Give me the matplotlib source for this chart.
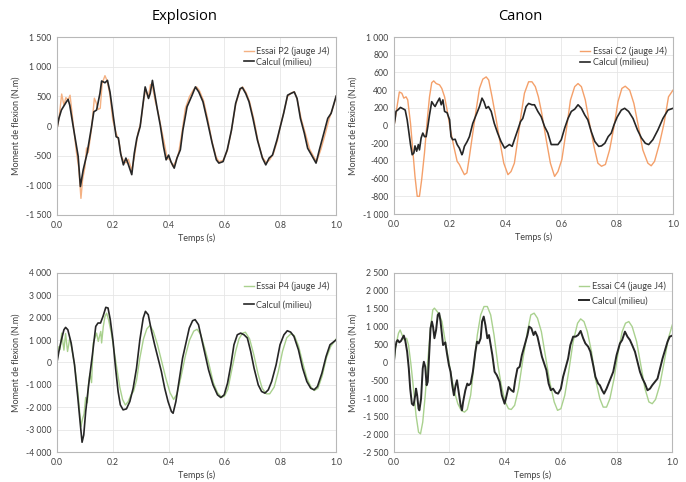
import matplotlib
matplotlib.use("Agg")
from matplotlib import pyplot as plt
from matplotlib.ticker import FuncFormatter, MultipleLocator

# ---- Explosion P2 (top left)
t_calc_p2 = [0, 0.007, 0.016, 0.034, 0.04, 0.046, 0.058, 0.076, 0.084, 0.094, 0.108, 0.124, 0.132, 0.142,
             0.154, 0.16, 0.172, 0.181, 0.19, 0.202, 0.212, 0.22, 0.228, 0.238, 0.247, 0.254, 0.268, 0.277,
             0.286, 0.298, 0.307, 0.316, 0.328, 0.334, 0.342, 0.352, 0.36, 0.37, 0.382, 0.391, 0.4, 0.408,
             0.42, 0.43, 0.442, 0.451, 0.466, 0.484, 0.496, 0.508, 0.523, 0.538, 0.556, 0.571, 0.58, 0.595,
             0.61, 0.625, 0.64, 0.656, 0.664, 0.676, 0.688, 0.702, 0.718, 0.736, 0.748, 0.76, 0.772, 0.788,
             0.8, 0.812, 0.826, 0.838, 0.85, 0.86, 0.872, 0.886, 0.898, 0.912, 0.928, 0.94, 0.956, 0.97,
             0.982, 1.0]
calc_p2 = [-40, 130, 270, 410, 450, 350, 0, -510, -1020, -740, -460, -10, 240, 270,
           550, 760, 730, 770, 575, 157, -180, -200, -460, -655, -540, -625, -820, -460,
           -210, -10, 325, 660, 465, 550, 770, 490, 270, 15, -350, -570, -490, -600,
           -710, -540, -400, -70, 325, 520, 660, 575, 410, 100, -290, -570, -625, -600,
           -400, -70, 380, 630, 650, 550, 410, 130, -235, -540, -655, -540, -490, -235,
           -10, 215, 520, 550, 575, 465, 130, -120, -375, -490, -625, -400, -120, 130,
           215, 505]

t_essai_p2 = [0, 0.008, 0.017, 0.025, 0.032, 0.04, 0.047, 0.058, 0.07, 0.078, 0.086, 0.092, 0.1, 0.106,
              0.112, 0.124, 0.134, 0.14, 0.148, 0.155, 0.162, 0.172, 0.18, 0.19, 0.2, 0.212, 0.222, 0.23,
              0.24, 0.248, 0.256, 0.268, 0.278, 0.29, 0.3, 0.31, 0.318, 0.327, 0.335, 0.343, 0.352, 0.362,
              0.372, 0.385, 0.395, 0.405, 0.415, 0.425, 0.436, 0.448, 0.46, 0.475, 0.49, 0.5, 0.51, 0.525,
              0.54, 0.555, 0.57, 0.58, 0.595, 0.61, 0.625, 0.64, 0.655, 0.665, 0.678, 0.69, 0.705, 0.72,
              0.735, 0.75, 0.762, 0.775, 0.79, 0.8, 0.812, 0.826, 0.84, 0.85, 0.86, 0.875, 0.89, 0.905,
              0.92, 0.93, 0.945, 0.96, 0.975, 0.99, 1.0]
essai_p2 = [-60, 150, 540, 350, 480, 440, 520, 50, -450, -700, -1220, -900, -700, -370,
            -450, -40, 470, 400, 280, 300, 720, 850, 760, 520, 100, -120, -250, -500,
            -600, -620, -560, -750, -500, -120, 50, 420, 620, 480, 700, 650, 420, 240,
            0, -300, -550, -560, -680, -600, -450, -100, 300, 500, 620, 660, 600, 430,
            120, -250, -520, -600, -580, -420, -80, 360, 600, 660, 560, 410, 120, -250,
            -520, -620, -570, -470, -240, 0, 220, 500, 560, 580, 460, 120, -130, -390,
            -520, -600, -400, -150, 120, 330, 500]

# ---- Canon C2 (top right)
t_essai_c2 = [0, 0.008, 0.02, 0.029, 0.036, 0.044, 0.05, 0.06, 0.068, 0.076, 0.084, 0.092, 0.1, 0.11,
              0.12, 0.128, 0.136, 0.143, 0.152, 0.164, 0.172, 0.182, 0.191, 0.203, 0.215, 0.227, 0.235,
              0.244, 0.253, 0.262, 0.271, 0.283, 0.295, 0.307, 0.319, 0.331, 0.34, 0.352, 0.367, 0.379,
              0.394, 0.409, 0.42, 0.432, 0.444, 0.456, 0.468, 0.483, 0.495, 0.507, 0.518, 0.53, 0.546,
              0.561, 0.576, 0.588, 0.602, 0.618, 0.633, 0.648, 0.66, 0.672, 0.686, 0.701, 0.717, 0.731,
              0.744, 0.758, 0.773, 0.789, 0.803, 0.817, 0.829, 0.845, 0.86, 0.875, 0.892, 0.91, 0.922,
              0.934, 0.952, 0.968, 0.984, 1.0]
essai_c2 = [-30, 140, 380, 365, 310, 325, 290, 25, -275, -575, -800, -800, -610, -310,
            65, 325, 485, 505, 475, 460, 420, 325, 175, -50, -235, -405, -440,
            -500, -555, -535, -350, -85, 175, 420, 525, 550, 515, 325, 65, -160,
            -425, -555, -520, -425, -160, 120, 365, 495, 495, 440, 325, 140, -160,
            -425, -575, -520, -385, -50, 290, 440, 475, 440, 290, 25, -235, -425,
            -460, -440, -275, -10, 270, 420, 445, 400, 250, 10, -275, -425, -455,
            -405, -200, 25, 325, 400]

t_calc_c2 = [0, 0.005, 0.008, 0.014, 0.024, 0.036, 0.041, 0.048, 0.053, 0.06, 0.066, 0.072, 0.076, 0.082,
             0.088, 0.092, 0.098, 0.104, 0.11, 0.116, 0.122, 0.128, 0.136, 0.143, 0.148, 0.155, 0.164,
             0.17, 0.176, 0.182, 0.191, 0.2, 0.205, 0.211, 0.22, 0.227, 0.235, 0.244, 0.247, 0.253, 0.263,
             0.271, 0.283, 0.295, 0.307, 0.316, 0.323, 0.331, 0.339, 0.349, 0.36, 0.372, 0.384, 0.397,
             0.405, 0.414, 0.424, 0.432, 0.444, 0.454, 0.462, 0.474, 0.483, 0.495, 0.504, 0.516, 0.528,
             0.54, 0.552, 0.564, 0.573, 0.588, 0.6, 0.612, 0.624, 0.636, 0.648, 0.66, 0.672, 0.684, 0.695,
             0.707, 0.72, 0.734, 0.744, 0.756, 0.768, 0.779, 0.789, 0.8, 0.815, 0.827, 0.841, 0.857,
             0.873, 0.887, 0.901, 0.913, 0.928, 0.946, 0.964, 0.982, 1.0]
calc_c2 = [-10, 80, 160, 175, 205, 185, 175, 65, -50, -215, -330, -310, -230, -290,
           -215, -275, -140, -85, -125, -125, -10, 120, 270, 235, 215, 260, 310,
           235, 290, 160, 145, 65, -125, -160, -155, -215, -255, -330, -310, -235, -180,
           -125, 25, 120, 215, 310, 270, 195, 215, 160, 25, -85, -180, -255,
           -235, -215, -235, -160, -50, 45, 80, 215, 250, 235, 235, 160, 100,
           -10, -85, -215, -215, -215, -160, -30, 80, 160, 185, 235, 195, 120, 65,
           -65, -180, -235, -230, -200, -125, -85, 10, 95, 175, 195, 160, 80,
           -50, -140, -200, -215, -160, -50, 80, 175, 195]

# ---- Explosion P4 (bottom left)
t_calc_p4 = [0, 0.007, 0.016, 0.025, 0.031, 0.039, 0.051, 0.063, 0.075, 0.084, 0.09, 0.096, 0.103, 0.115,
             0.127, 0.139, 0.147, 0.156, 0.165, 0.175, 0.183, 0.191, 0.201, 0.21, 0.219, 0.227, 0.237,
             0.249, 0.261, 0.273, 0.285, 0.297, 0.309, 0.317, 0.327, 0.339, 0.35, 0.362, 0.374, 0.386,
             0.398, 0.41, 0.416, 0.426, 0.438, 0.45, 0.462, 0.474, 0.486, 0.495, 0.507, 0.519, 0.531,
             0.543, 0.559, 0.575, 0.587, 0.599, 0.611, 0.623, 0.634, 0.646, 0.658, 0.67, 0.682, 0.694,
             0.706, 0.721, 0.733, 0.745, 0.757, 0.769, 0.785, 0.799, 0.813, 0.825, 0.837, 0.849, 0.865,
             0.88, 0.895, 0.909, 0.921, 0.933, 0.949, 0.964, 0.978, 1.0]
calc_p4 = [0, 490, 1010, 1460, 1565, 1460, 865, -105, -1595, -2790, -3560, -3235, -2190, -850,
           340, 1610, 1760, 1760, 2055, 2460, 2430, 1910, 940, -255, -1295, -1890, -2115,
           -2070, -1745, -1150, -255, 1010, 1980, 2280, 2130, 1385, 790, 195, -400, -1150,
           -1745, -2190, -2265, -1745, -775, 195, 865, 1535, 1865, 1910, 1685, 1010, 340,
           -330, -1000, -1445, -1565, -1445, -925, -105, 790, 1235, 1310, 1235, 1090, 490,
           -255, -1000, -1295, -1370, -1220, -850, -105, 790, 1235, 1415, 1355, 1160, 565,
           -255, -850, -1150, -1220, -1075, -475, 270, 790, 1010]

t_essai_p4 = [0, 0.006, 0.011, 0.017, 0.025, 0.031, 0.038, 0.046, 0.053, 0.063, 0.075, 0.086, 0.092,
              0.097, 0.103, 0.109, 0.112, 0.118, 0.124, 0.13, 0.136, 0.142, 0.148, 0.153, 0.157, 0.16,
              0.166, 0.172, 0.178, 0.185, 0.195, 0.205, 0.215, 0.225, 0.235, 0.245, 0.255, 0.265, 0.274,
              0.285, 0.297, 0.31, 0.322, 0.333, 0.345, 0.36, 0.375, 0.39, 0.405, 0.418, 0.43, 0.445,
              0.46, 0.475, 0.49, 0.502, 0.515, 0.53, 0.545, 0.56, 0.575, 0.59, 0.6, 0.612, 0.625, 0.64,
              0.652, 0.664, 0.675, 0.69, 0.705, 0.72, 0.735, 0.75, 0.762, 0.778, 0.793, 0.808, 0.823,
              0.838, 0.85, 0.865, 0.88, 0.895, 0.91, 0.922, 0.935, 0.95, 0.965, 0.98, 1.0]
essai_p4 = [0, 700, 570, 1310, 550, 1290, 490, 1080, 640, -100, -1300, -2860, -2500,
            -2300, -1560, -1800, -1070, -490, -900, 865, 1100, 1310, 940, 1200, 1385, 870,
            1600, 2050, 2200, 1900, 1300, 500, -300, -1100, -1650, -1900, -1750, -1450, -1300,
            -800, 200, 1050, 1500, 1650, 1400, 800, 50, -700, -1350, -1650, -1400, -600,
            300, 1000, 1400, 1480, 1250, 600, -100, -900, -1350, -1550, -1500, -1200, -400, 500,
            1050, 1300, 1350, 1050, 350, -500, -1150, -1400, -1400, -1100, -400, 500, 1100,
            1280, 1200, 750, 0, -700, -1100, -1250, -1150, -600, 200, 700, 1050]

# ---- Canon C4 (bottom right)
t_essai_c4 = [0, 0.008, 0.017, 0.023, 0.03, 0.038, 0.046, 0.053, 0.062, 0.072, 0.08, 0.089, 0.096,
              0.104, 0.113, 0.122, 0.132, 0.14, 0.146, 0.156, 0.164, 0.173, 0.182, 0.194, 0.206, 0.218,
              0.23, 0.242, 0.254, 0.264, 0.276, 0.288, 0.3, 0.312, 0.324, 0.336, 0.348, 0.36, 0.374,
              0.386, 0.4, 0.412, 0.422, 0.434, 0.448, 0.464, 0.48, 0.492, 0.504, 0.516, 0.53, 0.544,
              0.56, 0.576, 0.588, 0.6, 0.614, 0.628, 0.644, 0.66, 0.671, 0.683, 0.695, 0.71, 0.724,
              0.74, 0.752, 0.764, 0.776, 0.791, 0.806, 0.82, 0.832, 0.844, 0.856, 0.872, 0.887, 0.902,
              0.916, 0.928, 0.94, 0.955, 0.971, 0.986, 1.0]
essai_c4 = [-30, 485, 815, 905, 765, 625, 675, 485, -75, -820, -1475, -1945, -1990,
            -1665, -915, 20, 955, 1465, 1515, 1420, 1325, 1140, 720, 205, -355, -820,
            -1150, -1335, -1385, -1310, -915, -75, 765, 1325, 1560, 1560, 1325, 765, -75,
            -635, -1100, -1290, -1310, -1195, -730, 110, 860, 1325, 1375, 1235, 860, 205,
            -540, -1100, -1335, -1290, -915, -260, 580, 1095, 1215, 1140, 860, 300, -450,
            -1010, -1245, -1245, -1010, -450, 300, 860, 1095, 1140, 1000, 580, -75, -730,
            -1100, -1150, -1030, -635, 20, 675, 1045]

t_calc_c4 = [0, 0.005, 0.01, 0.014, 0.02, 0.026, 0.032, 0.036, 0.041, 0.048, 0.054, 0.059, 0.065, 0.071,
             0.077, 0.08, 0.084, 0.089, 0.092, 0.098, 0.104, 0.108, 0.113, 0.118, 0.122, 0.127, 0.132,
             0.137, 0.141, 0.146, 0.152, 0.158, 0.163, 0.168, 0.173, 0.177, 0.185, 0.191, 0.198, 0.204,
             0.21, 0.216, 0.222, 0.227, 0.233, 0.24, 0.245, 0.249, 0.257, 0.264, 0.269, 0.276, 0.284,
             0.293, 0.299, 0.305, 0.312, 0.317, 0.323, 0.329, 0.336, 0.342, 0.348, 0.354, 0.362, 0.37,
             0.38, 0.388, 0.398, 0.404, 0.412, 0.422, 0.43, 0.436, 0.444, 0.452, 0.46, 0.47, 0.48, 0.486,
             0.494, 0.502, 0.508, 0.516, 0.524, 0.532, 0.54, 0.548, 0.556, 0.564, 0.572, 0.581, 0.59,
             0.6, 0.608, 0.616, 0.626, 0.634, 0.644, 0.653, 0.662, 0.671, 0.68, 0.688, 0.698, 0.706,
             0.716, 0.724, 0.734, 0.74, 0.748, 0.755, 0.764, 0.776, 0.788, 0.8, 0.812, 0.82, 0.83, 0.839,
             0.848, 0.856, 0.866, 0.875, 0.884, 0.893, 0.902, 0.911, 0.92, 0.928, 0.938, 0.947, 0.956,
             0.965, 0.974, 0.983, 0.991, 1.0]
calc_c4 = [-30, 390, 580, 625, 560, 600, 690, 750, 625, 300, -170, -730, -1150, -1195,
           -915, -730, -915, -1290, -1335, -1010, -170, 20, -120, -635, -540, 205, 955,
           1140, 1000, 675, 905, 1325, 1375, 1140, 765, 485, 560, 250, -75, -260,
           -635, -915, -635, -495, -820, -1195, -1335, -1100, -775, -590, -635, -590, -260,
           300, 580, 530, 675, 1140, 1280, 1045, 675, 765, 485, 205, -260, -355,
           -540, -915, -1150, -960, -685, -775, -820, -495, -170, -120, 205, 485, 765, 1000,
           955, 765, 860, 720, 440, 160, -30, -215, -590, -775, -730, -840, -870,
           -730, -400, -170, 110, 485, 720, 720, 765, 880, 675, 530, 440, 300,
           -75, -400, -590, -635, -775, -870, -730, -495, -260, 205, 530, 625, 860, 720,
           625, 485, 300, 20, -260, -450, -590, -775, -730, -635, -540, -450, -170,
           110, 345, 580, 720, 750]

label_font = "Lato"
text_color = "#404040"


def thousands(v, pos):
    s = f"{abs(int(round(v))):,}".replace(",", " ")
    return "-" + s if v < 0 else s


def style_axes(ax, ylim, ystep, legend_spacing):
    ax.set_xlim(0, 1.0)
    ax.set_ylim(*ylim)
    ax.xaxis.set_major_locator(MultipleLocator(0.2))
    ax.yaxis.set_major_locator(MultipleLocator(ystep))
    ax.xaxis.set_major_formatter(FuncFormatter(lambda v, p: f"{v:.1f}"))
    ax.yaxis.set_major_formatter(FuncFormatter(thousands))
    ax.grid(True, color="#E6E6E6", linewidth=0.6)
    ax.set_axisbelow(True)
    for sp in ax.spines.values():
        sp.set_color("#B8B8B8")
        sp.set_linewidth(0.8)
    ax.tick_params(length=0, labelsize=6.2, labelcolor=text_color, pad=4)
    for lbl in ax.get_xticklabels() + ax.get_yticklabels():
        lbl.set_fontfamily(label_font)
    ax.set_ylabel("Moment de flexion (N.m)", fontsize=6.5, family=label_font, color=text_color, labelpad=4)
    ax.set_xlabel("Temps (s)", fontsize=6.5, family=label_font, color=text_color, labelpad=3)
    leg = ax.legend(loc="upper right", bbox_to_anchor=(1.0, 0.985), frameon=False, handlelength=1.1,
                    handletextpad=0.3, borderaxespad=0.3, labelspacing=legend_spacing,
                    prop={"family": label_font, "size": 6.6})
    for txt in leg.get_texts():
        txt.set_color(text_color)


fig = plt.figure(figsize=(6.86, 4.82), dpi=100)

ax1 = fig.add_axes([0.083, 0.554, 0.407, 0.369])
ax1.plot(t_essai_p2, essai_p2, color="#F4B183", lw=1.0, solid_joinstyle="round", label="Essai P2 (jauge J4)")
ax1.plot(t_calc_p2, calc_p2, color="#262626", lw=1.2, solid_joinstyle="round", label="Calcul (milieu)")
style_axes(ax1, (-1500, 1500), 500, 0.2)

ax2 = fig.add_axes([0.574, 0.556, 0.407, 0.367])
ax2.plot(t_essai_c2, essai_c2, color="#F4A06A", lw=1.0, solid_joinstyle="round", label="Essai C2 (jauge J4)")
ax2.plot(t_calc_c2, calc_c2, color="#262626", lw=1.2, solid_joinstyle="round", label="Calcul (milieu)")
style_axes(ax2, (-1000, 1000), 200, 0.25)

ax3 = fig.add_axes([0.083, 0.062, 0.407, 0.372])
ax3.plot(t_essai_p4, essai_p4, color="#A9D18E", lw=1.0, solid_joinstyle="round", label="Essai P4 (jauge J4)")
ax3.plot(t_calc_p4, calc_p4, color="#262626", lw=1.2, solid_joinstyle="round", label="Calcul (milieu)")
style_axes(ax3, (-4000, 4000), 1000, 0.95)

ax4 = fig.add_axes([0.574, 0.062, 0.406, 0.372])
ax4.plot(t_essai_c4, essai_c4, color="#A9D18E", lw=1.0, solid_joinstyle="round", label="Essai C4 (jauge J4)")
ax4.plot(t_calc_c4, calc_c4, color="#262626", lw=1.4, solid_joinstyle="round", label="Calcul (milieu)")
style_axes(ax4, (-2500, 2500), 500, 0.55)

fig.text(185 / 686, 1 - 17 / 482, "Explosion", ha="center", va="center", fontsize=10.5, family="Open Sans")
fig.text(520 / 686, 1 - 17 / 482, "Canon", ha="center", va="center", fontsize=10.5, family="Open Sans")

fig.savefig("out.png", dpi=100)
